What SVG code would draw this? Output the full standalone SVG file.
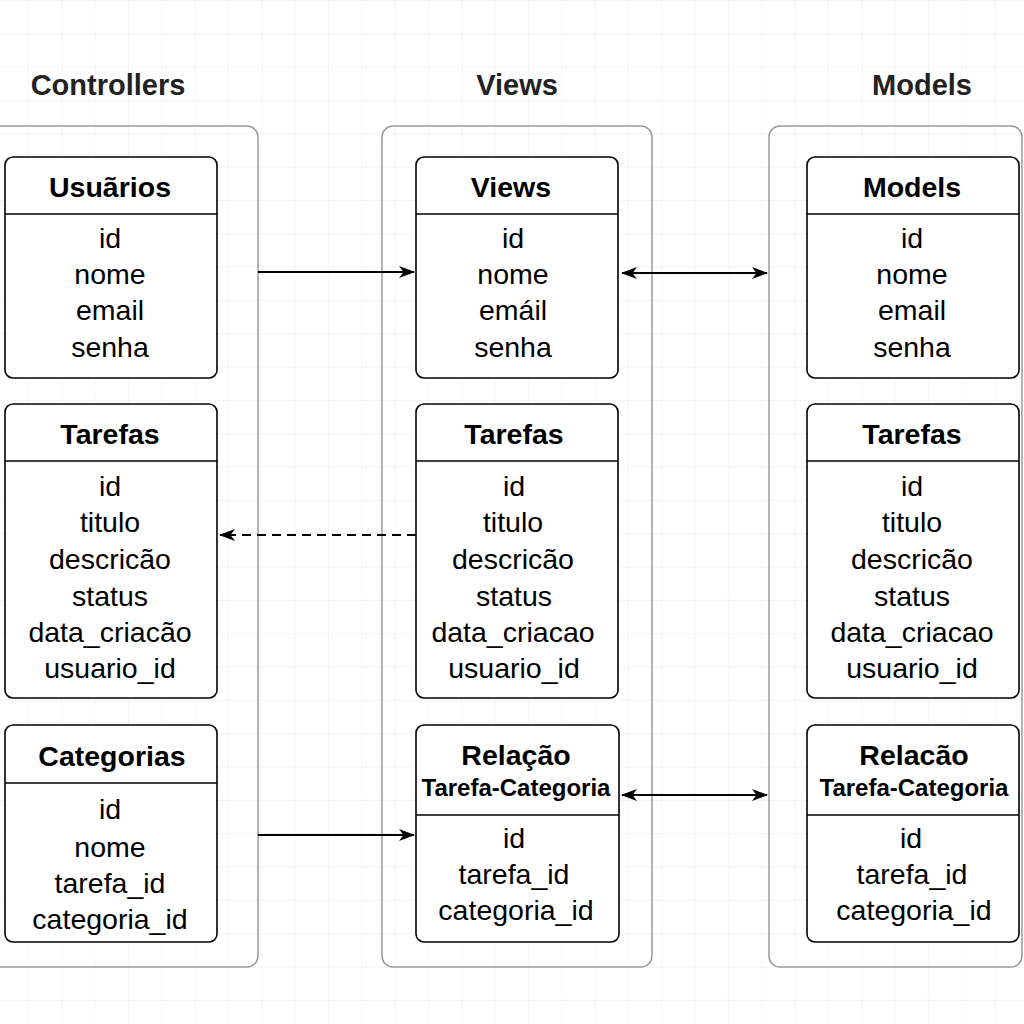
<svg xmlns="http://www.w3.org/2000/svg" width="1024" height="1024" viewBox="0 0 1024 1024">
<defs>
<pattern id="grid" x="28" y="0" width="33.33" height="33.33" patternUnits="userSpaceOnUse">
<path d="M0,0 V33.33 M0,0 H33.33" fill="none" stroke="#ececec" stroke-width="1"/>
</pattern>
<marker id="arr" viewBox="0 0 16 12" refX="15" refY="6" markerWidth="16" markerHeight="12" markerUnits="userSpaceOnUse" orient="auto-start-reverse">
<path d="M0,0 L16,6 L0,12 L4.5,6 z" fill="#000"/>
</marker>
</defs>
<style>
.title{font-family:"Liberation Sans",Arial,sans-serif;font-weight:bold;font-size:29px;fill:#222;text-anchor:middle}
.hdr{font-family:"Liberation Sans",Arial,sans-serif;font-weight:bold;font-size:28.5px;fill:#000;text-anchor:middle}
.sub{font-family:"Liberation Sans",Arial,sans-serif;font-weight:bold;font-size:24px;fill:#000;text-anchor:middle}
.fld{font-family:"Liberation Sans",Arial,sans-serif;font-size:28.5px;fill:#000;text-anchor:middle}
.cont{fill:none;stroke:#9a9a9a;stroke-width:1.5}
.box{fill:#fff;stroke:#000;stroke-width:1.6}
.div{stroke:#000;stroke-width:1.6}
.con{fill:none;stroke:#000;stroke-width:2}
.dash{stroke-dasharray:9,6}
</style>
<rect width="1024" height="1024" fill="#fff"/>
<rect width="1024" height="1024" fill="url(#grid)"/>

<g id="titles">
<text class="title" x="108" y="95">Controllers</text>
<text class="title" x="517" y="95">Views</text>
<text class="title" x="922" y="95">Models</text>
</g>

<g id="containers">
<rect class="cont" x="-20" y="126" width="278" height="841" rx="11"/>
<rect class="cont" x="382" y="126" width="270" height="841" rx="11"/>
<rect class="cont" x="769" y="126" width="253" height="841" rx="11"/>
</g>

<g id="c-usuarios">
<rect class="box" x="5" y="157" width="212" height="221" rx="8"/>
<line class="div" x1="5" y1="214" x2="217" y2="214"/>
<text class="hdr" x="110" y="197">Usuãrios</text>
<text class="fld" x="110" y="248">id</text>
<text class="fld" x="110" y="284">nome</text>
<text class="fld" x="110" y="320">email</text>
<text class="fld" x="110" y="357">senha</text>
</g>

<g id="c-tarefas">
<rect class="box" x="5" y="404" width="212" height="294" rx="8"/>
<line class="div" x1="5" y1="461" x2="217" y2="461"/>
<text class="hdr" x="110" y="444">Tarefas</text>
<text class="fld" x="110" y="496">id</text>
<text class="fld" x="110" y="532">titulo</text>
<text class="fld" x="110" y="569">descricão</text>
<text class="fld" x="110" y="606">status</text>
<text class="fld" x="110" y="642">data_criacão</text>
<text class="fld" x="110" y="678">usuario_id</text>
</g>

<g id="c-categorias">
<rect class="box" x="5" y="725" width="212" height="217" rx="8"/>
<line class="div" x1="5" y1="783" x2="217" y2="783"/>
<text class="hdr" x="112" y="766">Categorias</text>
<text class="fld" x="110" y="819">id</text>
<text class="fld" x="110" y="857">nome</text>
<text class="fld" x="110" y="893">tarefa_id</text>
<text class="fld" x="110" y="929">categoria_id</text>
</g>

<g id="v-views">
<rect class="box" x="416" y="157" width="202" height="221" rx="8"/>
<line class="div" x1="416" y1="214" x2="618" y2="214"/>
<text class="hdr" x="511" y="197">Views</text>
<text class="fld" x="513" y="248">id</text>
<text class="fld" x="513" y="284">nome</text>
<text class="fld" x="513" y="320">emáil</text>
<text class="fld" x="513" y="357">senha</text>
</g>

<g id="v-tarefas">
<rect class="box" x="416" y="404" width="202" height="294" rx="8"/>
<line class="div" x1="416" y1="461" x2="618" y2="461"/>
<text class="hdr" x="514" y="444">Tarefas</text>
<text class="fld" x="514" y="496">id</text>
<text class="fld" x="513" y="532">titulo</text>
<text class="fld" x="513" y="569">descricão</text>
<text class="fld" x="514" y="606">status</text>
<text class="fld" x="513" y="642">data_criacao</text>
<text class="fld" x="514" y="678">usuario_id</text>
</g>

<g id="v-relacao">
<rect class="box" x="416" y="725" width="203" height="217" rx="8"/>
<line class="div" x1="416" y1="815" x2="619" y2="815"/>
<text class="hdr" x="516" y="765">Relação</text>
<text class="sub" x="516" y="796">Tarefa-Categoria</text>
<text class="fld" x="514" y="848">id</text>
<text class="fld" x="514" y="884">tarefa_id</text>
<text class="fld" x="516" y="920">categoria_id</text>
</g>

<g id="m-models">
<rect class="box" x="807" y="157" width="212" height="221" rx="8"/>
<line class="div" x1="807" y1="214" x2="1019" y2="214"/>
<text class="hdr" x="912" y="197">Models</text>
<text class="fld" x="912" y="248">id</text>
<text class="fld" x="912" y="284">nome</text>
<text class="fld" x="912" y="320">email</text>
<text class="fld" x="912" y="357">senha</text>
</g>

<g id="m-tarefas">
<rect class="box" x="807" y="404" width="212" height="294" rx="8"/>
<line class="div" x1="807" y1="461" x2="1019" y2="461"/>
<text class="hdr" x="912" y="444">Tarefas</text>
<text class="fld" x="912" y="496">id</text>
<text class="fld" x="912" y="532">titulo</text>
<text class="fld" x="912" y="569">descricão</text>
<text class="fld" x="912" y="606">status</text>
<text class="fld" x="912" y="642">data_criacao</text>
<text class="fld" x="912" y="678">usuario_id</text>
</g>

<g id="m-relacao">
<rect class="box" x="807" y="725" width="212" height="217" rx="8"/>
<line class="div" x1="807" y1="815" x2="1019" y2="815"/>
<text class="hdr" x="914" y="765">Relacão</text>
<text class="sub" x="914" y="796">Tarefa-Categoria</text>
<text class="fld" x="911" y="848">id</text>
<text class="fld" x="912" y="884">tarefa_id</text>
<text class="fld" x="914" y="920">categoria_id</text>
</g>

<g id="connectors">
<line class="con" x1="258" y1="272" x2="414" y2="272" marker-end="url(#arr)"/>
<line class="con" x1="622" y1="273" x2="767" y2="273" marker-start="url(#arr)" marker-end="url(#arr)"/>
<line class="con dash" x1="416" y1="535" x2="220" y2="535" marker-end="url(#arr)"/>
<line class="con" x1="258" y1="835" x2="414" y2="835" marker-end="url(#arr)"/>
<line class="con" x1="622" y1="795" x2="767" y2="795" marker-start="url(#arr)" marker-end="url(#arr)"/>
</g>
</svg>
